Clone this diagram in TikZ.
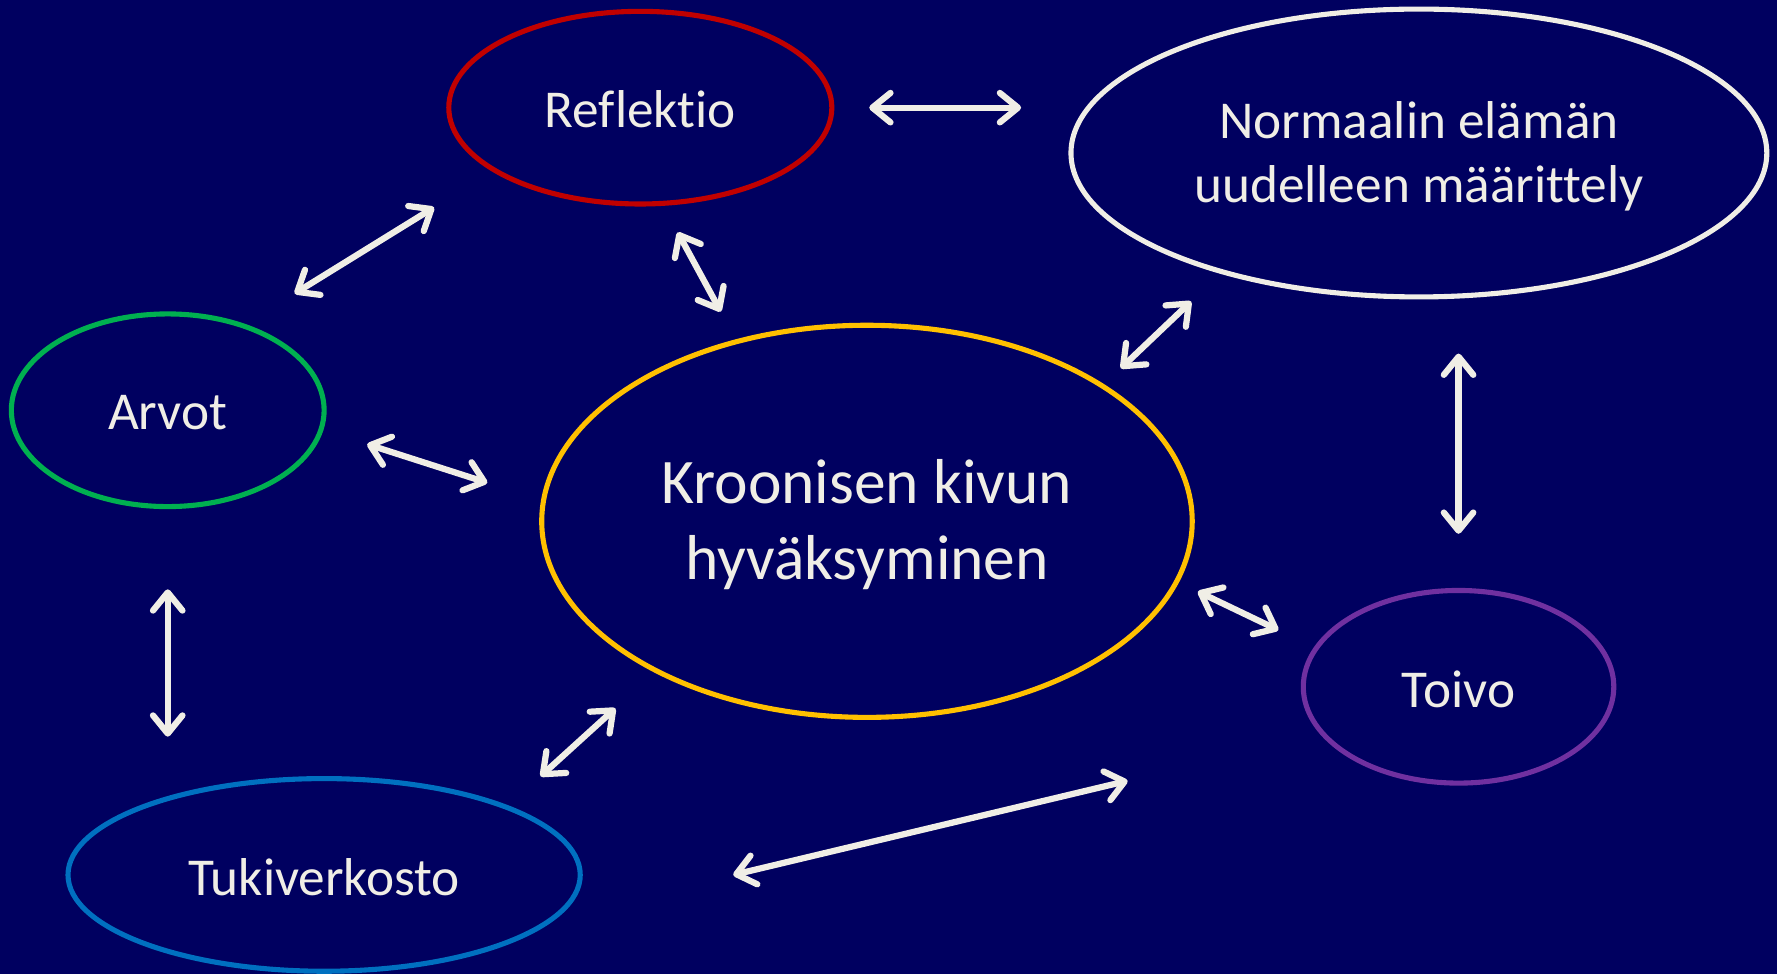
\documentclass[tikz,border=0pt]{standalone}
\usepackage{fontspec}
\setmainfont{Carlito}[Ligatures={NoCommon}]
\usetikzlibrary{arrows.meta}
\definecolor{bg}{HTML}{000060}
\definecolor{txt}{HTML}{F0EEE6}
\definecolor{cred}{HTML}{C00000}
\definecolor{cgreen}{HTML}{00B050}
\definecolor{cyellow}{HTML}{FFC000}
\definecolor{cpurple}{HTML}{7030A0}
\definecolor{cblue}{HTML}{0070C0}
\tikzset{
  ellline/.style={line width=4.5pt},
  lbl/.style={text=txt, align=center, font=\fontsize{47}{57}\selectfont},
  dbl/.style={draw=txt, line width=5.5pt, line cap=round,
    >={Straight Barb[length=16pt, width=26pt, line width=5.5pt, round]}, <->}
}
\begin{document}
\begin{tikzpicture}[x=1pt,y=-1pt]
\fill[bg] (0,0) rectangle (1568,859);
\useasboundingbox (0,0) rectangle (1568,859);
% ellipses
\draw[cred, ellline] (565,95) ellipse [x radius=169, y radius=85];
\draw[txt, ellline] (1252,135) ellipse [x radius=307, y radius=127];
\draw[cgreen, ellline] (148,362) ellipse [x radius=138, y radius=85];
\draw[cyellow, ellline] (765,460) ellipse [x radius=287, y radius=173];
\draw[cpurple, ellline] (1287,606) ellipse [x radius=137, y radius=85];
\draw[cblue, ellline] (286,772) ellipse [x radius=226, y radius=85];
% labels
\node[lbl] (refl) at (565,96) {Reflektio};
\node[lbl] (norm) at (1252,138) {Normaalin elämän\\uudelleen määrittely};
\node[lbl] (arvot) at (148,364) {Arvot};
\node[lbl, font=\fontsize{56}{67}\selectfont] (kroon) at (765,463) {Kroonisen kivun\\hyväksyminen};
\node[lbl] (toivo) at (1287,608) {Toivo};
\node[lbl] (tuki) at (286,774) {Tukiverkosto};
% arrow end points
\coordinate (a1) at (767,95); \coordinate (b1) at (901,95);
\coordinate (a2) at (383,183); \coordinate (b2) at (260,259);
\coordinate (a3) at (598,205); \coordinate (b3) at (636,275);
\coordinate (a4) at (1051,266); \coordinate (b4) at (989,325);
\coordinate (a5) at (1287,312); \coordinate (b5) at (1287,471);
\coordinate (a6) at (324,392); \coordinate (b6) at (430,426);
\coordinate (a7) at (148,520); \coordinate (b7) at (148,650);
\coordinate (a8) at (1057,522); \coordinate (b8) at (1128,556);
\coordinate (a9) at (543,625); \coordinate (b9) at (477,685);
\coordinate (a10) at (995,689); \coordinate (b10) at (647,772);
\foreach \i in {1,...,10} { \draw[dbl] (a\i) -- (b\i); }
\end{tikzpicture}
\end{document}
